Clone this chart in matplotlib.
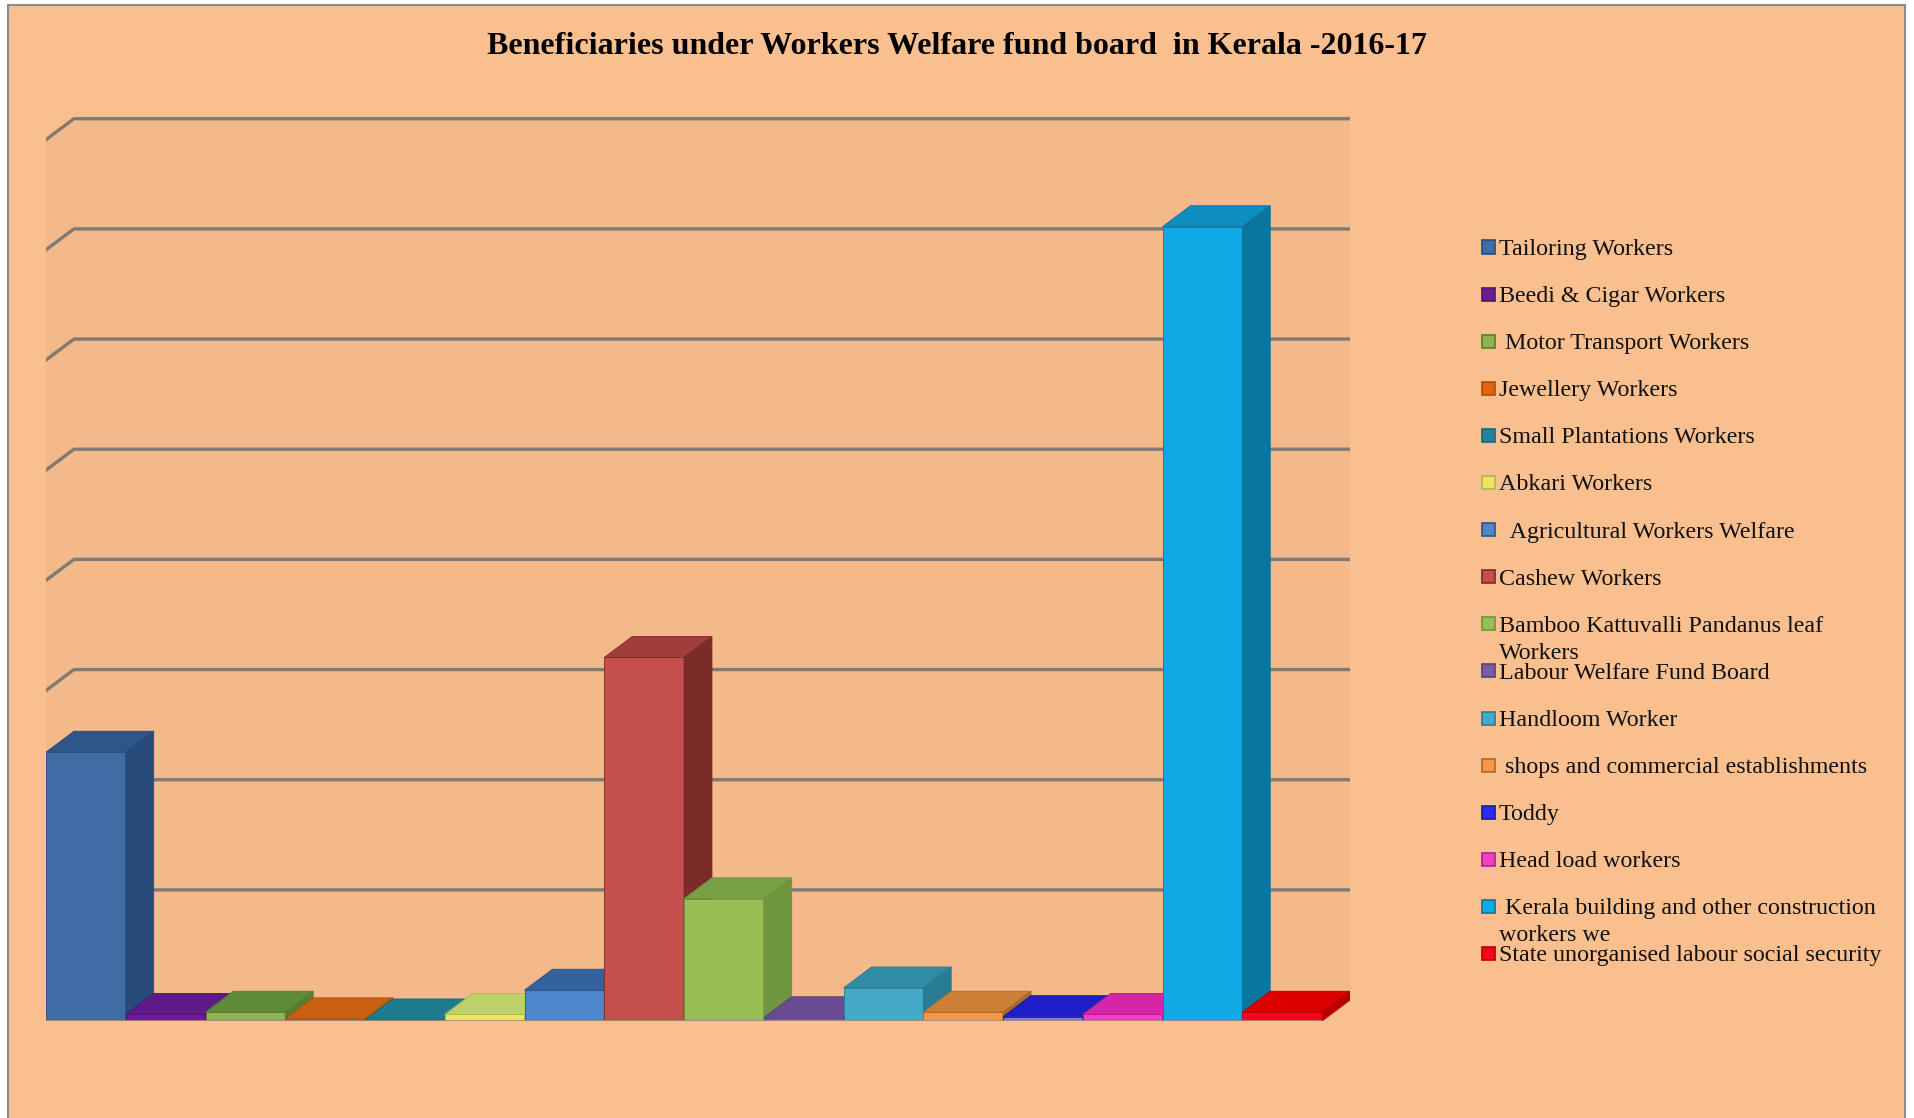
# Beneficiaries under the welfare fund boards, drawn as a fake 3D column chart
import matplotlib.pyplot as plt
from matplotlib.patches import Rectangle

plt.rcParams['font.family'] = ['Liberation Serif', 'DejaVu Serif']

W, H = 1914, 1118

title = "Beneficiaries under Workers Welfare fund board  in Kerala -2016-17"

labels = [
    "Tailoring Workers",
    "Beedi & Cigar Workers",
    " Motor Transport Workers",
    "Jewellery Workers",
    "Small Plantations Workers",
    "Abkari Workers",
    "  Agricultural Workers Welfare",
    "Cashew Workers",
    "Bamboo Kattuvalli Pandanus leaf\nWorkers",
    "Labour Welfare Fund Board",
    "Handloom Worker",
    " shops and commercial establishments",
    "Toddy",
    "Head load workers",
    " Kerala building and other construction\nworkers we",
    "State unorganised labour social security",
]

# heights, one gridline = 100
values = [244, 6, 8, 2, 1, 6, 28, 330, 111, 3, 30, 8, 4, 6, 721, 8]
grid_values = [100, 200, 300, 400, 500, 600, 700, 800]

front_colors = ["#3F6CA4", "#6C1C8E", "#8FB350", "#E0660F", "#23839F", "#F0E35E",
                "#4F86CB", "#C54F4C", "#97BF55", "#7A5CA0", "#45AAC6", "#F79646",
                "#7C7CDC", "#F23EC0", "#10A9E6", "#F6061E"]
top_colors = ["#2F5688", "#5E1A88", "#5F8A37", "#C9600F", "#1F7B8F", "#BDD06A",
              "#33639E", "#A23E3A", "#79A044", "#6A4A92", "#308BA5", "#CB8035",
              "#1E1EC8", "#D526A8", "#0C8FC0", "#DC0000"]
side_colors = ["#274A78", "#4E1672", "#567E32", "#A8500C", "#1A6778", "#A8B85A",
               "#2A5488", "#7A2C28", "#6E963F", "#5A3E7E", "#2A7C94", "#A8692A",
               "#1818A0", "#B0208C", "#0A759F", "#B80000"]
# legend keys are plain, Toddy is the strong blue there
key_colors = front_colors[:12] + ["#2B2BF5"] + front_colors[13:]

PAGE = "#FABF8F"
WALL = "#F3B98B"
GRID = "#7F7A72"
DX, DY = 0.35, 19  # depth of the fake 3D box, in data units


def px_x(x):
    return x / W


def px_y(y):
    return 1 - y / H


def draw_box(ax):
    n = len(values)
    top = max(grid_values)
    ax.fill([0, 0, DX, n + DX, n + DX, n], [0, top, top + DY, top + DY, DY, 0],
            color=WALL, lw=0, zorder=1)
    for v in grid_values:
        ax.plot([0, DX, n + DX], [v, v + DY, v + DY], color=GRID, lw=2.4,
                solid_joinstyle="round", zorder=2)


def draw_bars(ax):
    zorder = 3
    for i, v in enumerate(values):
        ax.bar(i, v, width=1, align="edge", color=front_colors[i],
               edgecolor=side_colors[i], linewidth=0.6, zorder=zorder)
        ax.fill([i, i + DX, i + 1 + DX, i + 1], [v, v + DY, v + DY, v],
                facecolor=top_colors[i], edgecolor=side_colors[i], lw=0.6, zorder=zorder)
        ax.fill([i + 1, i + 1 + DX, i + 1 + DX, i + 1], [0, DY, v + DY, v],
                facecolor=side_colors[i], edgecolor=side_colors[i], lw=0.6, zorder=zorder)
        zorder += 1
    ax.plot([0, len(values)], [0, 0], color="#A08A78", lw=1.2, zorder=zorder)


def draw_legend(fig):
    for i, label in enumerate(labels):
        y = 247 + i * 47.1
        fig.add_artist(Rectangle((px_x(1481.5), px_y(y + 6.5)), 13 / W, 13 / H,
                                 transform=fig.transFigure, facecolor=key_colors[i],
                                 edgecolor=side_colors[i], lw=1.2))
        fig.text(px_x(1499), px_y(y - 8), label, fontsize=17.3, color="#111111",
                 ha="left", va="top", linespacing=1.36)


if __name__ == '__main__':
    fig = plt.figure(figsize=(W / 100, H / 100), dpi=100, facecolor="white")
    # page runs off the bottom of the picture, so no lower border shows
    fig.add_artist(Rectangle((px_x(8), -0.02), 1897 / W, px_y(5) + 0.02, transform=fig.transFigure,
                             facecolor=PAGE, edgecolor="#8C8C8C", lw=1.5, zorder=-1))

    ax = fig.add_axes([px_x(46), px_y(1021), 1304 / W, 921 / H])
    ax.set_xlim(0, len(values) + DX)
    ax.set_ylim(0, 836)
    ax.axis("off")
    draw_box(ax)
    draw_bars(ax)
    draw_legend(fig)

    fig.text(px_x(957), px_y(46), title, fontsize=23, fontweight="bold",
             ha="center", va="center", color="black")

    fig.savefig("out.png", dpi=100, facecolor=fig.get_facecolor())
